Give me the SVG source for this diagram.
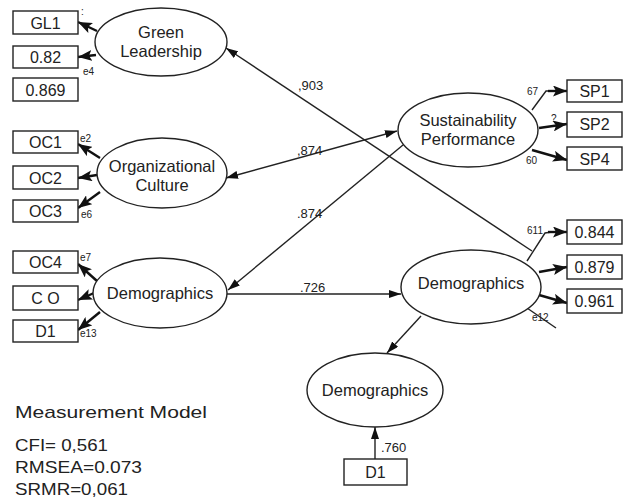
<svg xmlns="http://www.w3.org/2000/svg" width="623" height="502" viewBox="0 0 623 502">
<style>
.bg{fill:#fff}
.lat{fill:#fff;stroke:#222;stroke-width:1.4}
.box{fill:#fff;stroke:#222;stroke-width:1.4}
.t{font-family:"Liberation Sans",Arial,sans-serif;font-size:16.5px;fill:#222;text-anchor:middle}
.bt{font-family:"Liberation Sans",Arial,sans-serif;font-size:16px;fill:#222;text-anchor:middle}
.s{font-family:"Liberation Sans",Arial,sans-serif;font-size:10px;fill:#222}
.c{font-family:"Liberation Sans",Arial,sans-serif;font-size:13px;fill:#222}
.fit{font-family:"Liberation Sans",Arial,sans-serif;font-size:17px;fill:#222}
.ln{fill:none;stroke:#222;stroke-width:1.4}
.ind{fill:none;stroke:#111;stroke-width:2.4}
</style>
<defs>
<marker id="ah" markerUnits="userSpaceOnUse" markerWidth="13" markerHeight="8" refX="12" refY="4" orient="auto-start-reverse">
<path d="M0,0 L12,4 L0,8 z" fill="#111"/>
</marker>
<marker id="ahb" markerUnits="userSpaceOnUse" markerWidth="15" markerHeight="11" refX="14" refY="5.5" orient="auto">
<path d="M0,0 L14,5.5 L0,11 L3,5.5 z" fill="#111"/>
</marker>
</defs>
<rect class="bg" x="0" y="0" width="623" height="502"/>

<g id="connectors">
<line class="ln" x1="532" y1="251" x2="226" y2="48" marker-end="url(#ah)"/>
<line class="ln" x1="226" y1="178" x2="397" y2="131" marker-start="url(#ah)" marker-end="url(#ah)"/>
<line class="ln" x1="403" y1="145" x2="228" y2="290" marker-end="url(#ah)"/>
<line class="ln" x1="227" y1="294" x2="401" y2="294" marker-end="url(#ah)"/>
<line class="ln" x1="421" y1="316" x2="387" y2="353" marker-end="url(#ah)"/>
<line class="ln" x1="375" y1="459" x2="375" y2="427" marker-end="url(#ah)"/>
<line class="ln" x1="527" y1="308" x2="556" y2="328"/>
<line class="ind" x1="97" y1="31" x2="78" y2="22" marker-end="url(#ahb)"/>
<line class="ind" x1="96" y1="55" x2="78" y2="57" marker-end="url(#ahb)"/>
<line class="ind" x1="100" y1="158" x2="78" y2="144" marker-end="url(#ahb)"/>
<line class="ind" x1="97" y1="175" x2="78" y2="178" marker-end="url(#ahb)"/>
<line class="ind" x1="100" y1="192" x2="78" y2="208" marker-end="url(#ahb)"/>
<line class="ind" x1="97" y1="281" x2="78" y2="264" marker-end="url(#ahb)"/>
<line class="ind" x1="94" y1="293" x2="78" y2="300" marker-end="url(#ahb)"/>
<line class="ind" x1="100" y1="312" x2="78" y2="330" marker-end="url(#ahb)"/>
<polyline class="ln" points="532,110 546,91 552,91"/>
<line class="ind" x1="548" y1="91" x2="567" y2="91" marker-end="url(#ahb)"/>
<line class="ind" x1="539" y1="128" x2="567" y2="124" marker-end="url(#ahb)"/>
<line class="ind" x1="532" y1="150" x2="567" y2="160" marker-end="url(#ahb)"/>
<polyline class="ln" points="527,261 545,233 552,232"/>
<line class="ind" x1="548" y1="232" x2="567" y2="232" marker-end="url(#ahb)"/>
<line class="ind" x1="539" y1="272" x2="567" y2="267" marker-end="url(#ahb)"/>
<line class="ind" x1="539" y1="295" x2="567" y2="303" marker-end="url(#ahb)"/>
<text class="c" x="298" y="90">,903</text>
<text class="c" x="297" y="155">,874</text>
<text class="c" x="297" y="218">.874</text>
<text class="c" x="300" y="292">.726</text>
<text class="c" x="381" y="452">.760</text>
<text class="s" x="81" y="15">:</text>
<text class="s" x="83" y="75">e4</text>
<text class="s" x="80" y="142">e2</text>
<text class="s" x="81" y="218">e6</text>
<text class="s" x="80" y="261">e7</text>
<text class="s" x="80" y="337">e13</text>
<text class="s" x="527" y="95">67</text>
<text class="s" x="551" y="122">?</text>
<text class="s" x="526" y="164">60</text>
<text class="s" x="527" y="234">611</text>
<text class="s" x="532" y="321">e12</text>
</g>

<g id="green-leadership">
<ellipse class="lat" cx="161" cy="42" rx="66" ry="34"/>
<text class="t" x="161" y="38">Green</text>
<text class="t" x="161" y="57">Leadership</text>
</g>
<g id="gl1"><rect class="box" x="13" y="11" width="65" height="23"/><text class="bt" x="45.5" y="29">GL1</text></g>
<g id="gl-082"><rect class="box" x="13" y="46" width="65" height="22"/><text class="bt" x="45.5" y="63">0.82</text></g>
<g id="gl-0869"><rect class="box" x="13" y="78" width="65" height="23"/><text class="bt" x="45.5" y="96">0.869</text></g>

<g id="organizational-culture">
<ellipse class="lat" cx="162" cy="173" rx="65" ry="35"/>
<text class="t" x="162" y="172">Organizational</text>
<text class="t" x="162" y="191">Culture</text>
</g>
<g id="oc1"><rect class="box" x="13" y="131" width="65" height="22"/><text class="bt" x="45.5" y="148">OC1</text></g>
<g id="oc2"><rect class="box" x="13" y="166" width="65" height="23"/><text class="bt" x="45.5" y="184">OC2</text></g>
<g id="oc3"><rect class="box" x="13" y="200" width="65" height="22"/><text class="bt" x="45.5" y="217">OC3</text></g>

<g id="demographics-left">
<ellipse class="lat" cx="160" cy="293" rx="67" ry="35"/>
<text class="t" x="160" y="299">Demographics</text>
</g>
<g id="oc4"><rect class="box" x="13" y="251" width="65" height="22"/><text class="bt" x="45.5" y="268">OC4</text></g>
<g id="co"><rect class="box" x="13" y="286" width="65" height="24"/><text class="bt" x="45.5" y="304">C O</text></g>
<g id="d1-left"><rect class="box" x="13" y="320" width="65" height="22"/><text class="bt" x="45.5" y="337">D1</text></g>

<g id="sustainability-performance">
<ellipse class="lat" cx="468" cy="130" rx="70" ry="37"/>
<text class="t" x="468" y="126">Sustainability</text>
<text class="t" x="468" y="145">Performance</text>
</g>
<g id="sp1"><rect class="box" x="567" y="80" width="55" height="22"/><text class="bt" x="594.5" y="97">SP1</text></g>
<g id="sp2"><rect class="box" x="567" y="112" width="55" height="25"/><text class="bt" x="594.5" y="130">SP2</text></g>
<g id="sp4"><rect class="box" x="567" y="147" width="55" height="23"/><text class="bt" x="594.5" y="165">SP4</text></g>

<g id="demographics-right">
<ellipse class="lat" cx="471" cy="287" rx="70" ry="37"/>
<text class="t" x="471" y="289">Demographics</text>
</g>
<g id="r-0844"><rect class="box" x="567" y="220" width="55" height="24"/><text class="bt" x="594.5" y="238">0.844</text></g>
<g id="r-0879"><rect class="box" x="567" y="255" width="55" height="24"/><text class="bt" x="594.5" y="273">0.879</text></g>
<g id="r-0961"><rect class="box" x="567" y="289" width="55" height="24"/><text class="bt" x="594.5" y="307">0.961</text></g>

<g id="demographics-bottom">
<ellipse class="lat" cx="375" cy="390" rx="68" ry="37"/>
<text class="t" x="375" y="396">Demographics</text>
</g>
<g id="d1-bottom"><rect class="box" x="344" y="459" width="63" height="26"/><text class="bt" x="375.5" y="478">D1</text></g>

<g id="fit-indices">
<text class="fit" x="15" y="418" font-size="19" textLength="192" lengthAdjust="spacingAndGlyphs">Measurement Model</text>
<text class="fit" x="15" y="451" textLength="93" lengthAdjust="spacingAndGlyphs">CFI= 0,561</text>
<text class="fit" x="15" y="473" textLength="127" lengthAdjust="spacingAndGlyphs">RMSEA=0.073</text>
<text class="fit" x="15" y="495" textLength="113" lengthAdjust="spacingAndGlyphs">SRMR=0,061</text>
</g>
</svg>
